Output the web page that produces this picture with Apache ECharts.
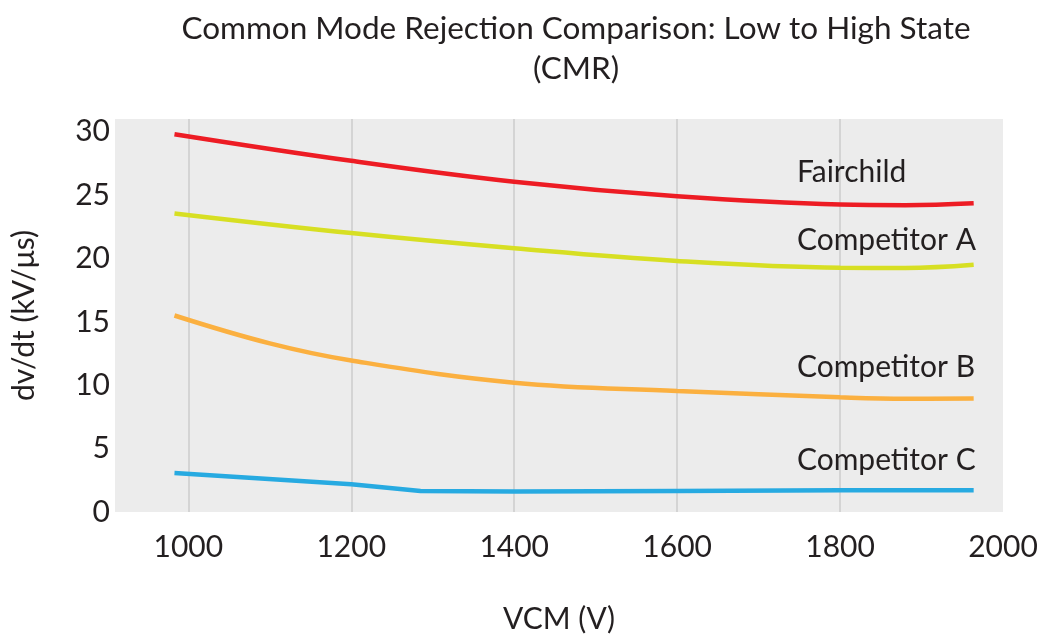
<!DOCTYPE html>
<html>
<head>
<meta charset="utf-8">
<script src="https://cdn.jsdelivr.net/npm/echarts@6/dist/echarts.min.js"></script>
<style>
  html, body { margin: 0; padding: 0; background: #fff; }
  #chart { width: 1047px; height: 639px; }
</style>
</head>
<body>
<div id="chart"></div>
<script>
// ===== Data =====
const xTicks = [1000, 1200, 1400, 1600, 1800, 2000];
const yTicks = [0, 5, 10, 15, 20, 25, 30];
const gridX = [1000, 1200, 1400, 1600, 1800];

const fairchild = [[983, 29.8], [1200, 27.7], [1400, 26.05], [1600, 24.9], [1800, 24.25], [1880, 24.2], [1964, 24.35]];
const compA = [[983, 23.55], [1200, 22.0], [1400, 20.8], [1600, 19.8], [1800, 19.27], [1880, 19.25], [1964, 19.5]];
const compB = [[983, 15.5], [1100, 13.3], [1200, 11.95], [1400, 10.2], [1600, 9.55], [1800, 9.05], [1880, 8.93], [1964, 8.96]];
const compC = [[983, 3.08], [1200, 2.18], [1285, 1.66], [1400, 1.61], [1600, 1.66], [1800, 1.71], [1964, 1.71]];

const seriesNames = ['Fairchild', 'Competitor A', 'Competitor B', 'Competitor C'];
const labelPos = [[1747, 26.8], [1747, 21.4], [1747, 11.4], [1747, 4.1]];

const FONT = 'Lato';
const chart = echarts.init(document.getElementById('chart'));

// helper: one line series with its name label
function lineSeries(i, data, color, smooth) {
  return {
    name: seriesNames[i],
    type: 'line',
    data: data,
    smooth: smooth,
    symbol: 'none',
    z: 3,
    lineStyle: { color: color, width: 4.5 },
    markPoint: {
      symbol: 'circle',
      symbolSize: 0,
      silent: true,
      label: {
        show: true,
        position: [0, 0],
        align: 'left',
        verticalAlign: 'middle',
        formatter: seriesNames[i],
        fontFamily: FONT,
        fontSize: 30,
        color: '#231f20'
      },
      data: [{ coord: labelPos[i] }]
    }
  };
}

chart.setOption({
  animation: false,
  title: {
    text: 'Common Mode Rejection Comparison: Low to High State\n(CMR)',
    left: 571,
    textAlign: 'center',
    top: 4,
    textStyle: { fontFamily: FONT, fontSize: 31.5, fontWeight: 'normal', color: '#231f20', lineHeight: 40 }
  },
  grid: {
    left: 115, right: 44, top: 119, bottom: 121,
    show: true, backgroundColor: '#ececec', borderWidth: 0
  },
  xAxis: {
    type: 'value',
    min: 910, max: 2000,
    name: 'VCM (V)',
    nameLocation: 'middle',
    nameGap: 92,
    nameTextStyle: { fontFamily: FONT, fontSize: 30, color: '#231f20' },
    axisLine: { show: false },
    axisTick: { show: false, customValues: gridX },
    axisLabel: { customValues: xTicks, formatter: v => String(v), fontFamily: FONT, fontSize: 30, color: '#231f20', margin: 20 },
    splitLine: { show: true, lineStyle: { color: '#d4d4d4', width: 2 } }
  },
  yAxis: {
    type: 'value',
    min: 0, max: 31,
    name: 'dv/dt (kV/\u03bcs)',
    nameLocation: 'middle',
    nameGap: 76,
    nameTextStyle: { fontFamily: FONT, fontSize: 30, color: '#231f20' },
    axisLine: { show: false },
    axisTick: { show: false },
    axisLabel: { customValues: yTicks, fontFamily: FONT, fontSize: 30, color: '#231f20', margin: 5 },
    splitLine: { show: false }
  },
  series: [
    lineSeries(0, fairchild, '#ed1c24', 0.4),
    lineSeries(1, compA, '#d7df23', 0.4),
    lineSeries(2, compB, '#fbb040', 0.4),
    lineSeries(3, compC, '#27aae1', false)
  ]
});
</script>
</body>
</html>
